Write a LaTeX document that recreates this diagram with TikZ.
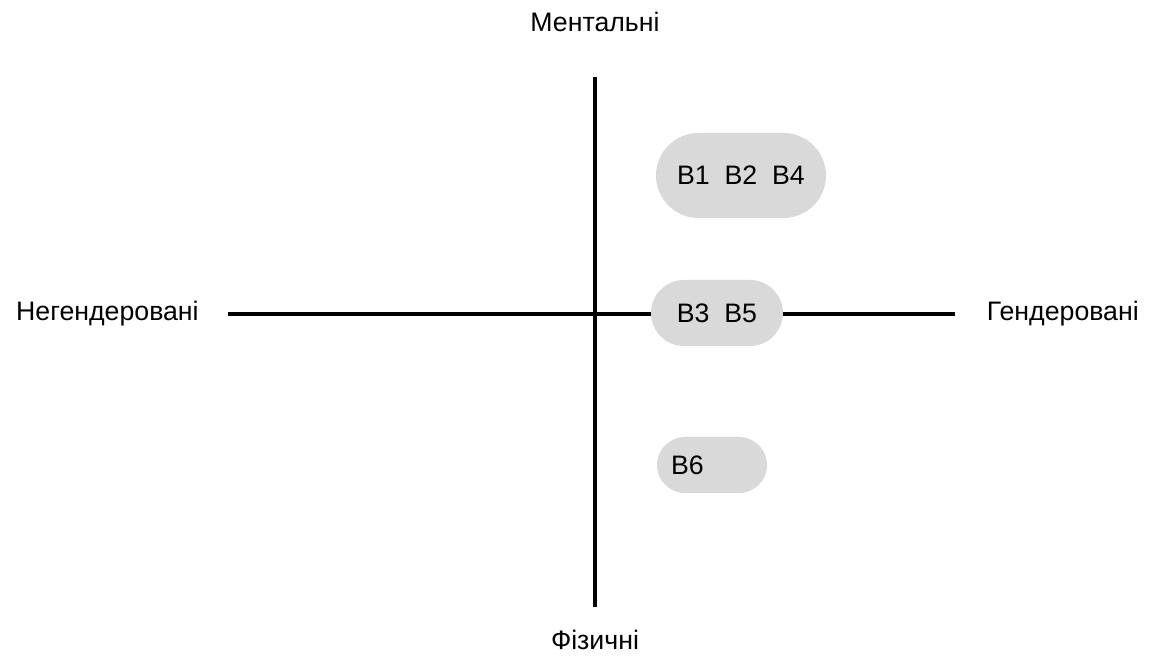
\documentclass[tikz,border=0pt]{standalone}
\usepackage{fontspec}
\setmainfont{Liberation Sans}
\definecolor{pillGray}{RGB}{217, 217, 217}
\usetikzlibrary{positioning}

\begin{document}
\begin{tikzpicture}[
                axis/.style={line width=2.3pt},
                pill/.style={fill=pillGray,font=\fontsize{15.2}{17}\selectfont,inner sep=0pt},
                label/.style={font=\fontsize{15.2}{17}\selectfont}
            ]
                \useasboundingbox (0,0) rectangle (23,13.22);

                % axes
                \coordinate (top) at (11.9,11.68);
                \coordinate (bottom) at (11.9,1.08);
                \coordinate (left) at (4.56,6.94);
                \coordinate (right) at (19.1,6.94);
                \draw[axis] (top) -- (bottom);
                \draw[axis] (left) -- (right);

                \node[label] (mental) at (11.9,12.78) {Ментальні};
                \node[label] (physical) at (11.9,0.42) {Фізичні};
                \node[label,anchor=west] (nongender) at (0.2,6.94) {Негендеровані};
                \node[label,anchor=east] (gender) at (22.9,6.94) {Гендеровані};

                % groups
                \node[pill,minimum width=3.4cm,minimum height=1.7cm,rounded corners=0.85cm] (g1) at (14.82,9.71) {B1~~B2~~B4};
                \node[pill,minimum width=2.64cm,minimum height=1.32cm,rounded corners=0.66cm] (g2) at (14.34,6.96) {B3~~B5};
                \node[pill,minimum width=2.2cm,minimum height=1.12cm,rounded corners=0.56cm,
                      text width=1.64cm,align=left] (g3) at (14.24,3.92) {B6};
            \end{tikzpicture}
\end{document}
